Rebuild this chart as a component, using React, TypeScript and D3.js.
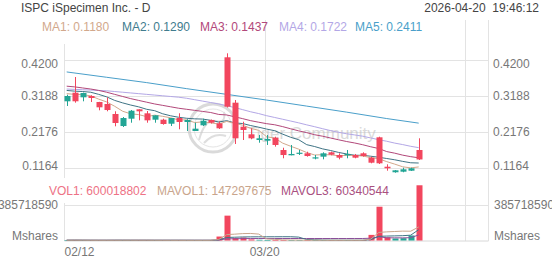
import React from "react";
import * as d3 from "d3";

const dates = ["02/12","02/13","02/17","02/18","02/19","02/20","02/23","02/24","02/25","02/26","02/27","03/02","03/03","03/04","03/05","03/06","03/09","03/10","03/11","03/12","03/13","03/16","03/17","03/18","03/19","03/20","03/23","03/24","03/25","03/26","03/27","03/30","03/31","04/01","04/02","04/06","04/07","04/08","04/09","04/10","04/13","04/14","04/15","04/16","04/17"];

const opens = [0.3025,0.3267,0.3137,0.3174,0.3005,0.2949,0.2668,0.2330,0.2536,0.2800,0.2687,0.2508,0.2508,0.2395,0.2555,0.2443,0.2190,0.2350,0.2499,0.2406,0.4262,0.2986,0.2311,0.2097,0.1937,0.1917,0.2002,0.1656,0.1507,0.1552,0.1563,0.1431,0.1468,0.1591,0.1515,0.1507,0.1515,0.1563,0.1440,0.2013,0.1186,0.1030,0.1046,0.1074,0.1656];
const highs = [0.3210,0.3708,0.3270,0.3194,0.3010,0.3137,0.2744,0.2583,0.2780,0.2800,0.2752,0.2631,0.2536,0.2555,0.2688,0.2520,0.2423,0.2536,0.2513,0.2451,0.4374,0.3061,0.2451,0.2266,0.2078,0.2078,0.2030,0.1720,0.1797,0.1656,0.1608,0.1515,0.1591,0.1610,0.1563,0.1656,0.1544,0.1591,0.1468,0.2030,0.1254,0.1094,0.1158,0.1158,0.1985];
const lows = [0.2893,0.2986,0.3025,0.3005,0.2772,0.2744,0.2322,0.2302,0.2423,0.2490,0.2423,0.2423,0.2367,0.2330,0.2238,0.2190,0.2190,0.2330,0.2400,0.2246,0.2850,0.1825,0.1937,0.1957,0.1861,0.1797,0.1750,0.1423,0.1507,0.1515,0.1468,0.1394,0.1394,0.1507,0.1394,0.1423,0.1423,0.1468,0.1282,0.1262,0.1074,0.1018,0.1030,0.1066,0.1375];
const closes = [0.3174,0.3025,0.3258,0.3118,0.2856,0.2780,0.2415,0.2555,0.2760,0.2744,0.2490,0.2631,0.2387,0.2555,0.2443,0.2500,0.2255,0.2480,0.2423,0.2266,0.2873,0.1985,0.2218,0.1985,0.1985,0.1965,0.1797,0.1515,0.1544,0.1580,0.1487,0.1450,0.1563,0.1524,0.1440,0.1544,0.1440,0.1487,0.1299,0.1282,0.1142,0.1085,0.1113,0.1142,0.1390];
const volumes = [3.2e6,4.1e6,2.5e6,1.8e6,2.6e6,2.9e6,4.4e6,3.1e6,2.7e6,2.2e6,2.9e6,1.9e6,2.4e6,2.0e6,2.6e6,1.7e6,2.3e6,1.9e6,3.5e6,43e6,270e6,26e6,32e6,12e6,8e6,5.0e6,4.2e6,5.5e6,3.1e6,2.6e6,2.9e6,2.2e6,2.8e6,2.4e6,2.7e6,2.3e6,3.0e6,3.6e6,61e6,367e6,35e6,22e6,25e6,54.5e6,600018802];

// moving-average lines
const ma1 = [0.324,0.322,0.321,0.318,0.3086,0.3007,0.2885,0.2745,0.2673,0.2651,0.2593,0.2636,0.2602,0.2561,0.2501,0.2503,0.2428,0.2447,0.2420,0.2385,0.2459,0.2405,0.2353,0.2265,0.2209,0.2028,0.1990,0.1849,0.1761,0.1680,0.1585,0.1515,0.1525,0.1521,0.1493,0.1504,0.1502,0.1487,0.1442,0.1410,0.1330,0.1259,0.1184,0.1153,0.1180];
const ma2 = [0.333,0.331,0.330,0.328,0.322,0.315,0.305,0.298,0.292,0.2869,0.2800,0.2761,0.2674,0.2617,0.2576,0.2548,0.2532,0.2525,0.2491,0.2443,0.2481,0.2417,0.2400,0.2343,0.2297,0.2244,0.2198,0.2101,0.2013,0.1945,0.1806,0.1753,0.1687,0.1641,0.1587,0.1544,0.1509,0.1506,0.1481,0.1452,0.1417,0.1381,0.1336,0.1297,0.1290];
const ma3 = [0.345,0.343,0.340,0.337,0.333,0.328,0.322,0.316,0.310,0.305,0.300,0.295,0.291,0.287,0.283,0.280,0.277,0.274,0.271,0.2656,0.2641,0.2589,0.2537,0.2480,0.2437,0.2396,0.2365,0.2313,0.2252,0.2194,0.2144,0.2085,0.2043,0.1992,0.1942,0.1894,0.1853,0.1804,0.1747,0.1698,0.1612,0.1567,0.1511,0.1469,0.1437];
const ma4 = [0.337,0.336,0.335,0.334,0.333,0.332,0.330,0.328,0.326,0.324,0.322,0.320,0.318,0.316,0.314,0.311,0.307,0.303,0.299,0.295,0.290,0.285,0.279,0.273,0.268,0.262,0.257,0.252,0.247,0.2419,0.2363,0.2310,0.2254,0.2200,0.2153,0.2112,0.2079,0.2044,0.1995,0.1946,0.1902,0.1850,0.1808,0.1760,0.1722];
const ma5Idx = [0,5,10,15,20,25,30,35,40,44];
const ma5 = [0.385,0.370,0.355,0.338,0.322,0.306,0.289,0.272,0.254,0.2411];

const priceTicks = [0.42, 0.3188, 0.2176, 0.1164];
const volTick = 385718590;
const xTickIdx = [0, 25];
const xGridIdx = [25, 50];

const maLegend = [
  { label: "MA1: 0.1180", color: "#d2a88c" },
  { label: "MA2: 0.1290", color: "#417c8e" },
  { label: "MA3: 0.1437", color: "#b2487a" },
  { label: "MA4: 0.1722", color: "#b3a7e6" },
  { label: "MA5: 0.2411", color: "#4a9fca" },
];
const maLegendX = [42, 122, 200, 279, 355];
const volLegend = [
  { label: "VOL1: 600018802", color: "#ee7285" },
  { label: "MAVOL1: 147297675", color: "#c9a58c" },
  { label: "MAVOL3: 60340544", color: "#a9507f" },
];
const volLegendX = [49, 157, 281];

const RED = "#f2465e";
const TEAL = "#22a595";
const GRID = "#e3e3e3";
const FONT = "'Liberation Sans', Arial, Helvetica, sans-serif";

const mavg = (arr: number[], n: number) =>
  arr.map((_, i) => d3.mean(arr.slice(Math.max(0, i - n + 1), i + 1)) as number);

export default function App() {
  const W = 552, H = 265;
  const x = d3.scaleLinear().domain([0, 50]).range([66.7, 466.7]);
  const y = d3.scaleLinear().domain([0.1164, 0.42]).range([167.5, 59.5]);
  const yv = d3.scaleLinear().domain([0, volTick]).range([240.5, 205]);
  const left = 64.5, right = 488.5;
  const crisp = (v: number) => Math.round(v) + 0.5;

  const line = d3.line<number>().x((_, i) => x(i)).y((d) => y(d));
  const line5 = d3.line<number>().x((_, i) => x(ma5Idx[i])).y((d) => y(d)).curve(d3.curveMonotoneX);
  const vline = d3.line<number>().x((_, i) => x(i)).y((d) => yv(d));

  const maLines = [
    { d: line(ma4), c: "#b3a7e6" },
    { d: line(ma3), c: "#b2487a" },
    { d: line(ma2), c: "#3f7485" },
    { d: line(ma1), c: "#d2a88c" },
  ];
  const mv1 = mavg(volumes, 5);
  const mv2 = mavg(volumes, 10);
  const mv3 = mavg(volumes, 20);

  const bw = 6;

  return (
    <svg width={W} height={H} style={{ position: "absolute", left: 0, top: 0, background: "#fff" }}
      fontFamily={FONT}>
      <rect x={0} y={0} width={W} height={H} fill="#fff" />
      {/* header */}
      <text x={21} y={8} dominantBaseline="central" fontSize={12} fill="#444">ISPC iSpecimen Inc. - D</text>
      <text x={539} y={8} dominantBaseline="central" fontSize={12} fill="#444" textAnchor="end" style={{ whiteSpace: "pre" }}>{"2026-04-20  19:46:12"}</text>

      {/* vertical grid / borders */}
      {xGridIdx.map((i) => (
        <line key={"vg" + i} x1={crisp(x(i) - 2)} x2={crisp(x(i) - 2)} y1={20} y2={241} stroke={GRID} />
      ))}
      <line x1={right} x2={right} y1={20} y2={241} stroke={GRID} />
      <line x1={left} x2={left} y1={44} y2={178} stroke={GRID} />
      <line x1={left} x2={left} y1={203} y2={241} stroke={GRID} />

      {/* price grid */}
      {priceTicks.map((t) => (
        <line key={"pg" + t} x1={left} x2={right} y1={crisp(y(t))} y2={crisp(y(t))} stroke={GRID} />
      ))}
      {priceTicks.map((t) => {
        const ly = Math.min(Math.max(y(t), 64), 165.5);
        return (
          <g key={"pl" + t}>
            <text x={58} y={ly} dominantBaseline="central" textAnchor="end" fontSize={12} fill="#777">{t.toFixed(4)}</text>
            <text x={493} y={ly} dominantBaseline="central" fontSize={12} fill="#777">{t.toFixed(4)}</text>
          </g>
        );
      })}

      {/* watermark */}
      <g opacity={0.55}>
        <circle cx={213} cy={128} r={24} fill="none" stroke="#bdbdbd" strokeWidth={3} />
        <circle cx={213} cy={128} r={19} fill="none" stroke="#cfcfcf" strokeWidth={1} />
        <path d="M199,140 Q205,118 216,121 Q226,124 224,112 M204,143 Q214,132 226,136" fill="none" stroke="#c4c4c4" strokeWidth={2} />
        <text x={247} y={133} dominantBaseline="central" fontSize={17} fill="#bcbcbc">Tiger Community</text>
      </g>

      {/* MA lines */}
      <path d={line5(ma5) || ""} fill="none" stroke="#4a9fca" strokeWidth={1} />
      {maLines.map((m, k) => (
        <path key={"ma" + k} d={m.d || ""} fill="none" stroke={m.c} strokeWidth={1} />
      ))}

      {/* candles */}
      {closes.map((c, i) => {
        const o = opens[i];
        const up = c >= o;
        const col = up ? TEAL : RED;
        const cx = x(i);
        const top = y(Math.max(o, c));
        const bot = y(Math.min(o, c));
        return (
          <g key={"c" + i}>
            <line x1={Math.round(cx) + 0.5} x2={Math.round(cx) + 0.5} y1={y(highs[i])} y2={y(lows[i])} stroke={col} strokeWidth={1} />
            <rect x={Math.round(cx) + 0.5 - bw / 2} y={top} width={bw} height={Math.max(1.2, bot - top)} fill={col} />
          </g>
        );
      })}

      {/* legend */}
      {maLegend.map((m, k) => (
        <text key={"ml" + k} x={maLegendX[k]} y={26.5} dominantBaseline="central" fontSize={12} fill={m.color}>{m.label}</text>
      ))}

      {/* volume panel */}
      {volLegend.map((m, k) => (
        <text key={"vl" + k} x={volLegendX[k]} y={191} dominantBaseline="central" fontSize={12} fill={m.color}>{m.label}</text>
      ))}
      <line x1={left} x2={right} y1={crisp(yv(volTick))} y2={crisp(yv(volTick))} stroke={GRID} />
      <line x1={left} x2={right} y1={241} y2={241} stroke="#d8d8d8" />
      <text x={58} y={205} dominantBaseline="central" textAnchor="end" fontSize={12} fill="#777">{String(volTick)}</text>
      <text x={494} y={205} dominantBaseline="central" fontSize={12} fill="#777">{String(volTick)}</text>
      <text x={58} y={236} dominantBaseline="central" textAnchor="end" fontSize={12} fill="#777">Mshares</text>
      <text x={494} y={236} dominantBaseline="central" fontSize={12} fill="#777">Mshares</text>

      {volumes.map((v, i) => {
        const up = closes[i] >= opens[i];
        const top = yv(v);
        return (
          <rect key={"v" + i} x={Math.round(x(i)) + 0.5 - bw / 2} y={top} width={bw}
            height={Math.max(0.6, yv(0) - top)} fill={up ? TEAL : RED} />
        );
      })}
      <path d={vline(mv3) || ""} fill="none" stroke="#8a4f9a" strokeWidth={1} />
      <path d={vline(mv2) || ""} fill="none" stroke="#3f7485" strokeWidth={1} />
      <path d={vline(mv1) || ""} fill="none" stroke="#c9a58c" strokeWidth={1} />

      {/* x axis labels */}
      {xTickIdx.map((i) => (
        <text key={"xl" + i} x={Math.max(x(i) - 2, 65 + 14.5)} y={251.5} dominantBaseline="central" textAnchor="middle" fontSize={12} fill="#777">{dates[i]}</text>
      ))}
    </svg>
  );
}
